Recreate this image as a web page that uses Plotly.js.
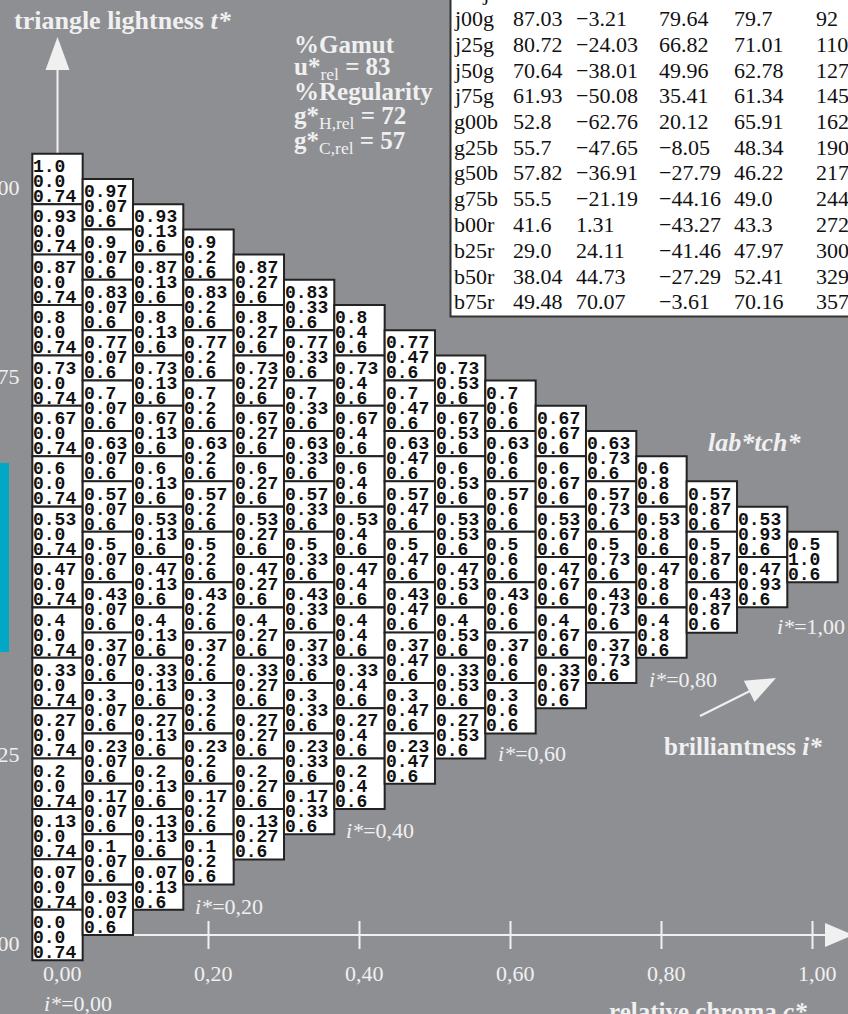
<!DOCTYPE html>
<html><head><meta charset="utf-8">
<script src="https://cdn.plot.ly/plotly-3.0.1.min.js"></script>
<style>html,body{margin:0;padding:0;background:#8e8f93;}#chart{width:848px;height:1014px;}</style>
</head><body><div id="chart"></div>
<script>
// ---------- data ----------
const chromaValues = [0, 0.0667, 0.1333, 0.2, 0.2667, 0.3333, 0.4, 0.4667, 0.5333, 0.6, 0.6667, 0.7333, 0.8, 0.8667, 0.9333, 1.0];
const thirdValues = [0.74, 0.6, 0.6, 0.6, 0.6, 0.6, 0.6, 0.6, 0.6, 0.6, 0.6, 0.6, 0.6, 0.6, 0.6, 0.6];
const lightnessByColumn = [
  [1.0, 0.9333, 0.8667, 0.8, 0.7333, 0.6667, 0.6, 0.5333, 0.4667, 0.4, 0.3333, 0.2667, 0.2, 0.1333, 0.0667, 0.0],
  [0.9667, 0.9, 0.8333, 0.7667, 0.7, 0.6333, 0.5667, 0.5, 0.4333, 0.3667, 0.3, 0.2333, 0.1667, 0.1, 0.0333],
  [0.9333, 0.8667, 0.8, 0.7333, 0.6667, 0.6, 0.5333, 0.4667, 0.4, 0.3333, 0.2667, 0.2, 0.1333, 0.0667],
  [0.9, 0.8333, 0.7667, 0.7, 0.6333, 0.5667, 0.5, 0.4333, 0.3667, 0.3, 0.2333, 0.1667, 0.1],
  [0.8667, 0.8, 0.7333, 0.6667, 0.6, 0.5333, 0.4667, 0.4, 0.3333, 0.2667, 0.2, 0.1333],
  [0.8333, 0.7667, 0.7, 0.6333, 0.5667, 0.5, 0.4333, 0.3667, 0.3, 0.2333, 0.1667],
  [0.8, 0.7333, 0.6667, 0.6, 0.5333, 0.4667, 0.4, 0.3333, 0.2667, 0.2],
  [0.7667, 0.7, 0.6333, 0.5667, 0.5, 0.4333, 0.3667, 0.3, 0.2333],
  [0.7333, 0.6667, 0.6, 0.5333, 0.4667, 0.4, 0.3333, 0.2667],
  [0.7, 0.6333, 0.5667, 0.5, 0.4333, 0.3667, 0.3],
  [0.6667, 0.6, 0.5333, 0.4667, 0.4, 0.3333],
  [0.6333, 0.5667, 0.5, 0.4333, 0.3667],
  [0.6, 0.5333, 0.4667, 0.4],
  [0.5667, 0.5, 0.4333],
  [0.5333, 0.4667],
  [0.5]
];
const xTickVals = [0, 0.2, 0.4, 0.6, 0.8, 1.0];
const xTickText = ['0,00', '0,20', '0,40', '0,60', '0,80', '1,00'];
const yTickVals = [0, 0.25, 0.75, 1.0];
const yTickText = ['0,00', '0,25', '0,75', '1,00'];
const brillianceLabels = ['0,00', '0,20', '0,40', '0,60', '0,80', '1,00'];

const tableNames = ['r75j', 'j00g', 'j25g', 'j50g', 'j75g', 'g00b', 'g25b', 'g50b', 'g75b', 'b00r', 'b25r', 'b50r', 'b75r'];
const tableL = ['', '87.03', '80.72', '70.64', '61.93', '52.8', '55.7', '57.82', '55.5', '41.6', '29.0', '38.04', '49.48'];
const tableA = ['', '\u22123.21', '\u221224.03', '\u221238.01', '\u221250.08', '\u221262.76', '\u221247.65', '\u221236.91', '\u221221.19', '1.31', '24.11', '44.73', '70.07'];
const tableB = ['', '79.64', '66.82', '49.96', '35.41', '20.12', '\u22128.05', '\u221227.79', '\u221244.16', '\u221243.27', '\u221241.46', '\u221227.29', '\u22123.61'];
const tableC = ['', '79.7', '71.01', '62.78', '61.34', '65.91', '48.34', '46.22', '49.0', '43.3', '47.97', '52.41', '70.16'];
const tableH = ['', '92', '110', '127', '145', '162', '190', '217', '244', '272', '300', '329', '357'];

const gamutU = 83, regularityH = 72, regularityC = 57;

// ---------- layout constants ----------
const W = 848, H = 1014;
const X0 = 57.5, XS = 755, Y0 = 935, YS = 756;
const STEP = 1 / 15;
const BG = '#8e8f93', LIGHT = '#f0f0f0';
const xRange = [-X0 / XS, (W - X0) / XS];
const yRange = [(Y0 - H) / YS, Y0 / YS];
const dx = p => p / XS, dy = p => p / YS;
const xFromPx = p => (p - X0) / XS, yFromPx = p => (Y0 - p) / YS;
const px = p => p / W, py = p => 1 - p / H;

function fmt(v) { const r = Math.round(v * 100) / 100; let s = String(r); if (s.indexOf('.') < 0) s += '.0'; return s; }

const shapes = [];
const annotations = [];
const serif = 'Liberation Serif, Times New Roman, serif';

// axes
shapes.push({type: 'line', xref: 'x', yref: 'y', x0: 0, x1: 0, y0: 0, y1: yFromPx(68), line: {color: LIGHT, width: 2}});
shapes.push({type: 'path', xref: 'x', yref: 'y', path: `M ${-dx(12)},${yFromPx(70)} L ${dx(12)},${yFromPx(70)} L 0,${yFromPx(37)} Z`, fillcolor: LIGHT, line: {width: 0}});
shapes.push({type: 'line', xref: 'x', yref: 'y', x0: 0, x1: xFromPx(828), y0: 0, y1: 0, line: {color: LIGHT, width: 2}});
shapes.push({type: 'path', xref: 'x', yref: 'y', path: `M ${xFromPx(825)},${dy(12)} L ${xFromPx(825)},${-dy(12)} L ${xFromPx(853)},0 Z`, fillcolor: LIGHT, line: {width: 0}});
xTickVals.forEach(v => {
  shapes.push({type: 'line', xref: 'x', yref: 'y', x0: v, x1: v, y0: -dy(14), y1: dy(14), line: {color: LIGHT, width: 2}});
});

// cells
chromaValues.forEach((c, j) => {
  lightnessByColumn[j].forEach(t => {
    shapes.push({type: 'rect', xref: 'x', yref: 'y', x0: c - STEP / 2, x1: c + STEP / 2, y0: t - STEP / 2, y1: t + STEP / 2,
      fillcolor: '#ffffff', line: {color: '#222222', width: 2}});
    const lines = [fmt(t), fmt(c), fmt(thirdValues[j])];
    const shifts = [12, -3, -18];
    lines.forEach((txt, k) => {
      annotations.push({xref: 'x', yref: 'y', x: c - STEP / 2, y: t, xanchor: 'left', yanchor: 'middle', yshift: shifts[k], xshift: 0,
        text: txt, showarrow: false, borderpad: 0,
        font: {family: 'Liberation Mono, Courier New, monospace', size: 18, color: '#111111', weight: 'bold'}});
    });
  });
});

// axis tick labels
xTickVals.forEach((v, i) => {
  annotations.push({xref: 'x', yref: 'y', x: v, y: 0, xanchor: 'center', yanchor: 'middle', xshift: 5, yshift: -38,
    text: xTickText[i], showarrow: false, borderpad: 0, font: {family: serif, size: 22, color: LIGHT}});
});
yTickVals.forEach((v, i) => {
  annotations.push({xref: 'x', yref: 'y', x: 0, y: v, xanchor: 'right', yanchor: 'middle', xshift: -36.5, yshift: -8,
    text: yTickText[i], showarrow: false, borderpad: 0, font: {family: serif, size: 22, color: LIGHT}});
});

// brilliance labels (pixel positions: left edge, vertical centre)
const brilPos = [[43, 1003], [194, 906], [345, 830], [497, 753], [648, 679], [776, 626]];
brillianceLabels.forEach((s, i) => {
  annotations.push({xref: 'paper', yref: 'paper', x: px(brilPos[i][0]), y: py(brilPos[i][1]), xanchor: 'left', yanchor: 'middle',
    text: '<i>i*</i>=' + s, showarrow: false, borderpad: 0, font: {family: serif, size: 22, color: LIGHT}});
});

// bold labels
function label(text, x, y, size, anchor) {
  annotations.push({xref: 'paper', yref: 'paper', x: px(x), y: py(y), xanchor: anchor || 'left', yanchor: 'middle',
    text: text, showarrow: false, borderpad: 0, font: {family: serif, size: size, color: LIGHT}});
}
label('<b>triangle lightness <i>t*</i></b>', 13, 21, 26);
label('<b>%Gamut</b>', 293, 44, 25);
label('<b>u*</b><sub>rel</sub><b> = ' + gamutU + '</b>', 293, 68, 25);
label('<b>%Regularity</b>', 293, 91, 25);
label('<b>g*</b><sub>H,rel</sub><b> = ' + regularityH + '</b>', 293, 117, 25);
label('<b>g*</b><sub>C,rel</sub><b> = ' + regularityC + '</b>', 293, 143, 25);
label('<b><i>lab*tch*</i></b>', 707, 442, 26);
label('<b>brilliantness <i>i*</i></b>', 663, 746, 25);
label('<b>relative chroma <i>c*</i></b>', 708, 1011, 25, 'center');

// brilliance arrow
shapes.push({type: 'line', xref: 'paper', yref: 'paper', x0: px(700), y0: py(716), x1: px(752), y1: py(690), line: {color: LIGHT, width: 2}});
shapes.push({type: 'path', xref: 'paper', yref: 'paper',
  path: `M ${px(776)},${py(678)} L ${px(743.8)},${py(680.7)} L ${px(754.6)},${py(702.1)} Z`, fillcolor: LIGHT, line: {width: 0}});

// cyan bar
shapes.push({type: 'rect', xref: 'paper', yref: 'paper', x0: px(0), x1: px(9), y0: py(652), y1: py(463), fillcolor: '#00a8c6', line: {width: 0}});

// table
shapes.push({type: 'rect', xref: 'paper', yref: 'paper', x0: px(450.5), x1: px(855), y0: py(316.5), y1: py(-6),
  fillcolor: '#ffffff', line: {color: '#333333', width: 2}});
const tableCols = [tableNames, tableL, tableA, tableB, tableC, tableH];
const colLeft = [453, 512, 575, 658, 733, 815];
tableNames.forEach((nm, r) => {
  const yc = 18.5 + 25.75 * (r - 1);
  tableCols.forEach((col, k) => {
    if (!col[r]) return;
    annotations.push({xref: 'paper', yref: 'paper', x: px(colLeft[k]), y: py(yc), xanchor: 'left', yanchor: 'middle',
      text: col[r], showarrow: false, borderpad: 0, font: {family: serif, size: 22, color: '#111111'}});
  });
});

const layout = {
  width: W, height: H, autosize: false,
  margin: {l: 0, r: 0, t: 0, b: 0, pad: 0},
  paper_bgcolor: BG, plot_bgcolor: BG,
  showlegend: false,
  xaxis: {range: xRange, showgrid: false, zeroline: false, showticklabels: false, showline: false, ticks: '', fixedrange: true},
  yaxis: {range: yRange, showgrid: false, zeroline: false, showticklabels: false, showline: false, ticks: '', fixedrange: true},
  shapes: shapes,
  annotations: annotations
};
const data = [{type: 'scatter', x: [], y: [], mode: 'markers', hoverinfo: 'skip'}];
Plotly.newPlot('chart', data, layout, {staticPlot: true, displayModeBar: false});
</script>
</body></html>
